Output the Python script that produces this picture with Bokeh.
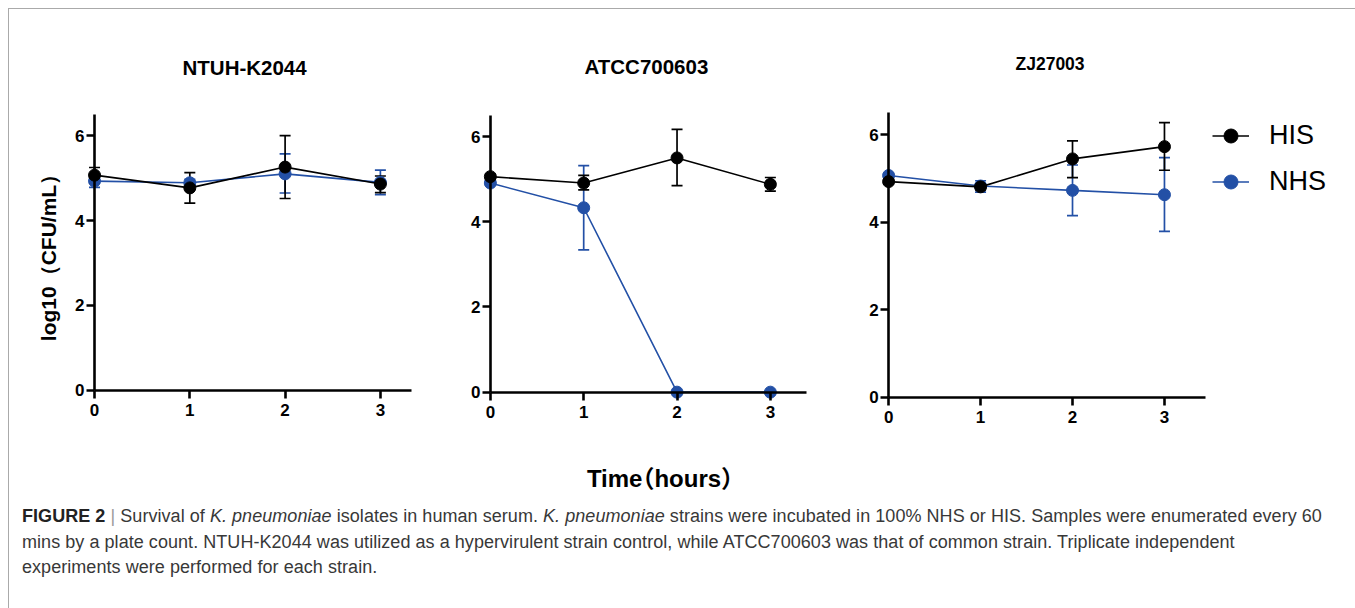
from bokeh.plotting import figure
from bokeh.models import (LinearAxis, FixedTicker, Whisker, TeeHead, ColumnDataSource,
                          Legend, LegendItem, Div, Range1d)
from bokeh.layouts import row, column
from bokeh.embed import file_html
from bokeh.resources import INLINE

# ---------------- data ----------------
time_h = [0, 1, 2, 3]
x_ticks = [0, 1, 2, 3]
y_ticks = [0, 2, 4, 6]
strains = ["NTUH-K2044", "ATCC700603", "ZJ27003"]
series_names = ["HIS", "NHS"]

ntuh_his = [5.07, 4.77, 5.26, 4.86]
ntuh_his_lo = [4.88, 4.41, 4.52, 4.66]
ntuh_his_hi = [5.25, 5.13, 6.00, 5.05]
ntuh_nhs = [4.93, 4.89, 5.10, 4.90]
ntuh_nhs_lo = [4.78, 4.82, 4.65, 4.61]
ntuh_nhs_hi = [5.08, 4.97, 5.57, 5.19]

atcc_his = [5.06, 4.91, 5.50, 4.88]
atcc_his_lo = [5.00, 4.75, 4.85, 4.72]
atcc_his_hi = [5.12, 5.09, 6.17, 5.04]
atcc_nhs = [4.91, 4.33, 0.0, 0.0]
atcc_nhs_lo = [4.86, 3.34, 0.0, 0.0]
atcc_nhs_hi = [4.96, 5.32, 0.0, 0.0]

zj_his = [4.93, 4.81, 5.45, 5.73]
zj_his_lo = [4.88, 4.74, 5.02, 5.19]
zj_his_hi = [4.98, 4.88, 5.86, 6.28]
zj_nhs = [5.07, 4.83, 4.73, 4.63]
zj_nhs_lo = [5.02, 4.69, 4.15, 3.79]
zj_nhs_hi = [5.12, 4.95, 5.31, 5.48]

y_label = "log10（CFU/mL）"
x_label = "Time（hours）"

HIS_COLOR = "#000000"
NHS_COLOR = "#2350a6"
FONT = "Liberation Sans"


def make_panel(title, his, his_lo, his_hi, nhs, nhs_lo, nhs_hi, geom, title_style,
               ylab=None, legend_loc=None):
    (bl, br, bt, bb, fw, fh, xmin, xmax, xaxis_end, ymax) = geom
    (tsize, toffset, tstandoff) = title_style
    p = figure(output_backend="svg", toolbar_location=None,
               x_range=Range1d(xmin, xmax), y_range=Range1d(-0.9, ymax),
               frame_width=fw, frame_height=fh,
               min_border_left=bl, min_border_right=br, min_border_top=bt, min_border_bottom=bb,
               x_axis_location=None, y_axis_location=None, title=title)
    p.grid.visible = False
    p.outline_line_color = None
    p.background_fill_color = "white"
    p.border_fill_color = "white"
    p.title.align = "left"
    p.title.offset = toffset
    p.title.text_font = FONT
    p.title.text_font_size = tsize
    p.title.text_font_style = "bold"
    p.title.text_color = "black"
    if "standoff" in p.title.properties():
        p.title.standoff = tstandoff

    for ax_side, bounds, ticks in (("below", (0, xaxis_end), x_ticks), ("left", (0, 6.5), y_ticks)):
        ax = LinearAxis(fixed_location=0, bounds=bounds, ticker=FixedTicker(ticks=ticks))
        ax.axis_line_width = 2.6
        ax.axis_line_color = "black"
        ax.major_tick_line_width = 2.6
        ax.major_tick_line_color = "black"
        ax.major_tick_in = 0
        ax.major_tick_out = 8
        ax.minor_tick_line_color = None
        ax.major_label_text_font = FONT
        ax.major_label_text_font_size = "17px"
        ax.major_label_text_font_style = "bold"
        ax.major_label_text_color = "black"
        ax.major_label_standoff = 6 if ax_side == "below" else 2
        if ax_side == "left" and ylab:
            ax.axis_label = ylab
            ax.axis_label_text_font = FONT
            ax.axis_label_text_font_size = "21px"
            ax.axis_label_text_font_style = "bold"
            ax.axis_label_text_color = "black"
            ax.axis_label_standoff = 12
        p.add_layout(ax, ax_side)

    renderers = {}
    for name, vals, lo, hi, col in (("NHS", nhs, nhs_lo, nhs_hi, NHS_COLOR),
                                     ("HIS", his, his_lo, his_hi, HIS_COLOR)):
        src = ColumnDataSource(dict(x=time_h, y=vals, lo=lo, hi=hi))
        w = Whisker(base="x", upper="hi", lower="lo", source=src, dimension="height",
                    line_color=col, line_width=1.7,
                    upper_head=TeeHead(size=11, line_color=col, line_width=1.7),
                    lower_head=TeeHead(size=11, line_color=col, line_width=1.7))
        p.add_layout(w)
        ln = p.line("x", "y", source=src, line_color=col, line_width=1.6)
        sc = p.scatter("x", "y", source=src, size=12, fill_color=col, line_color=col, line_width=1)
        renderers[name] = (ln, sc)

    if legend_loc is not None:
        items = [LegendItem(label=n, renderers=list(renderers[n])) for n in series_names]
        lg = Legend(items=items, location=legend_loc, glyph_width=37, glyph_height=35,
                    label_standoff=20, spacing=11, padding=0, margin=0,
                    label_text_font=FONT, label_text_font_size="27px", label_text_color="black",
                    border_line_color=None, background_fill_alpha=0)
        p.add_layout(lg, "center")
    return p


# geom: border left, right, top, bottom, frame width, frame height, xmin, xmax, x-axis end, ymax
p1 = make_panel(strains[0], ntuh_his, ntuh_his_lo, ntuh_his_hi, ntuh_nhs, ntuh_nhs_lo, ntuh_nhs_hi,
                (21, 20, 102, 13, 388, 317, -0.672, 3.40, 3.33, 6.57), ("20.5px", 152, 65), ylab=y_label)
p2 = make_panel(strains[1], atcc_his, atcc_his_lo, atcc_his_hi, atcc_nhs, atcc_nhs_lo, atcc_nhs_hi,
                (22, 10, 102, 13, 350, 319, -0.32, 3.43, 3.39, 6.59), ("20.5px", 124, 68))
p3 = make_panel(strains[2], zj_his, zj_his_lo, zj_his_hi, zj_nhs, zj_nhs_lo, zj_nhs_hi,
                (35, 10, 102, 13, 480, 325, -0.36, 4.86, 3.45, 6.534), ("17.5px", 160, 76),
                legend_loc=(357, 237))

time_div = Div(width=1336, height=40, text=(
    '<div style="width:1292px;text-align:center;margin-top:10px;'
    'font-family:\'Liberation Sans\',\'Noto Sans CJK SC\',\'Noto Sans CJK JP\';'
    'font-weight:bold;font-size:24px;line-height:30px;color:#000;white-space:nowrap;'
    'font-feature-settings:\'halt\' 1;">' + x_label + '</div>'))

caption_lines = [
    '<b style="color:#222">FIGURE 2</b> <span style="color:#999">|</span> Survival of <i>K. pneumoniae</i> isolates in human serum. '
    '<i>K. pneumoniae</i> strains were incubated in 100% NHS or HIS. Samples were enumerated every 60',
    'mins by a plate count. NTUH-K2044 was utilized as a hypervirulent strain control, while ATCC700603 was that of common strain. Triplicate independent',
    'experiments were performed for each strain.',
]
cap_div = Div(width=1336, height=110, text=(
    '<div style="padding-left:8px;font-family:\'Liberation Sans\';font-size:18px;line-height:25.5px;'
    'letter-spacing:0.05px;color:#383838;white-space:nowrap;">' + '<br>'.join(caption_lines) + '</div>'))

layout = column(row(p1, p2, p3), time_div, cap_div, margin=(8, 10, 0, 8),
                styles={"border-left": "1px solid #aaaaaa", "border-top": "1px solid #aaaaaa",
                        "border-right": "1px solid #aaaaaa"})

open("out.html", "w").write(file_html(layout, INLINE))
